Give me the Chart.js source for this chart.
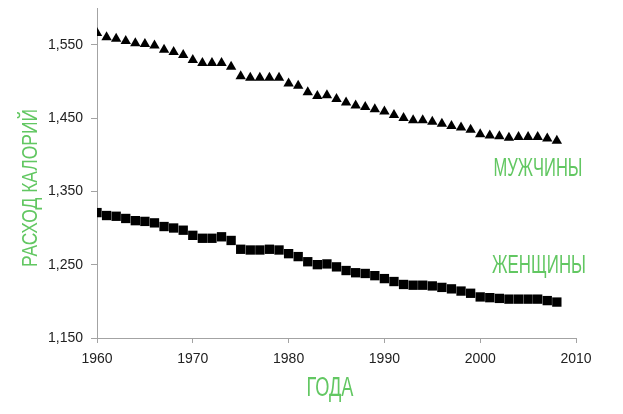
<!DOCTYPE html>
<html>
<head>
<meta charset="utf-8">
<script src="https://cdn.jsdelivr.net/npm/chart.js@4/dist/chart.umd.min.js"></script>
<style>
  html, body { margin: 0; padding: 0; background: #fff; }
  #wrap { position: relative; width: 623px; height: 414px; }
</style>
</head>
<body>
<div id="wrap"><canvas id="c" width="623" height="414"></canvas></div>
<script>
const years = [];
for (let y = 1960; y <= 2008; y++) years.push(y);

const menValues = [1566,1560,1558,1555,1552,1551,1549,1543,1540,1536,
  1529,1525,1525,1525,1520,1507,1505,1505,1505,1505,
  1497,1494,1485,1480,1481,1476,1471,1467,1465,1462,
  1459,1454,1450,1447,1447,1445,1442,1439,1437,1434,
  1428,1426,1425,1423,1424,1424,1424,1422,1419];

const womenValues = [1321,1317,1316,1313,1310,1309,1307,1302,1300,1297,
  1290,1286,1286,1288,1283,1271,1270,1270,1271,1270,
  1265,1261,1254,1250,1251,1247,1242,1239,1238,1235,
  1231,1227,1223,1222,1222,1221,1219,1217,1214,1211,
  1206,1205,1204,1203,1203,1203,1203,1201,1199];

const yTickValues = [1150, 1250, 1350, 1450, 1550];
const xTickValues = [1960, 1970, 1980, 1990, 2000, 2010];

const seriesNames = ['МУЖЧИНЫ', 'ЖЕНЩИНЫ'];
const yTitle = 'РАСХОД КАЛОРИЙ';
const xTitle = 'ГОДА';

const GREEN = '#62c762';
const AXIS = '#a3a3a3';
const TITLE_FONT = '"Liberation Sans Narrow", "Liberation Sans", sans-serif';

function drawScaledText(ctx, text, x, y, targetW, px, rotate) {
  ctx.save();
  ctx.translate(x, y);
  if (rotate) ctx.rotate(-Math.PI / 2);
  ctx.font = px + 'px ' + TITLE_FONT;
  const w = ctx.measureText(text).width;
  ctx.scale(targetW / w, 1);
  ctx.textAlign = 'center';
  ctx.textBaseline = 'alphabetic';
  ctx.fillStyle = GREEN;
  ctx.fillText(text, 0, 0);
  ctx.restore();
}

const titlesPlugin = {
  id: 'titles',
  afterDraw(chart) {
    const ctx = chart.ctx;
    drawScaledText(ctx, xTitle, 330, 396, 47, 27, false);
    drawScaledText(ctx, yTitle, 37, 188, 158, 22, true);
    drawScaledText(ctx, seriesNames[0], 538, 176, 89, 25, false);
    drawScaledText(ctx, seriesNames[1], 539, 273, 94, 25, false);
  }
};

new Chart(document.getElementById('c'), {
  type: 'scatter',
  data: {
    datasets: [
      {
        label: seriesNames[0],
        data: years.map((y, i) => ({ x: y, y: menValues[i] })),
        pointStyle: 'triangle',
        pointRadius: 6,
        backgroundColor: '#000',
        borderColor: '#000',
        borderWidth: 0,
        showLine: false
      },
      {
        label: seriesNames[1],
        data: years.map((y, i) => ({ x: y, y: womenValues[i] })),
        pointStyle: 'rect',
        pointRadius: 6.6,
        backgroundColor: '#000',
        borderColor: '#000',
        borderWidth: 0,
        showLine: false
      }
    ]
  },
  options: {
    responsive: false,
    animation: false,
    events: [],
    layout: { padding: { top: 8, right: 47, left: 0, bottom: 0 } },
    plugins: { legend: { display: false }, tooltip: { enabled: false } },
    scales: {
      x: {
        type: 'linear',
        min: 1960,
        max: 2010,
        afterBuildTicks: (axis) => { axis.ticks = xTickValues.map(v => ({ value: v })); },
        afterFit: (scale) => { scale.height = 76; scale.paddingLeft = 0; scale.paddingRight = 0; },
        grid: { drawOnChartArea: false, drawTicks: true, tickLength: 5, color: AXIS },
        border: { display: true, color: AXIS, width: 1 },
        ticks: {
          color: '#222',
          font: { family: '"Liberation Sans", Arial, sans-serif', size: 14 },
          padding: 8,
          maxRotation: 0,
          callback: (v) => String(v)
        }
      },
      y: {
        min: 1150,
        max: 1600,
        afterBuildTicks: (axis) => { axis.ticks = yTickValues.map(v => ({ value: v })); },
        afterFit: (scale) => { scale.width = 97; scale.paddingTop = 0; scale.paddingBottom = 0; },
        grid: { drawOnChartArea: false, drawTicks: true, tickLength: 6, color: AXIS },
        border: { display: true, color: AXIS, width: 1 },
        ticks: {
          color: '#222',
          font: { family: '"Liberation Sans", Arial, sans-serif', size: 14 },
          padding: 8,
          callback: (v) => Number(v).toLocaleString('en-US')
        }
      }
    }
  },
  plugins: [titlesPlugin]
});
</script>
</body>
</html>
